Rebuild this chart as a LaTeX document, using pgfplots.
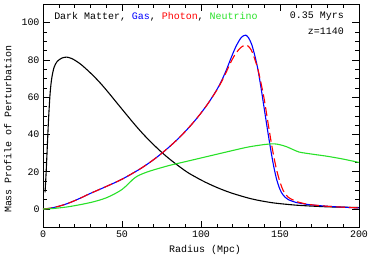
\documentclass[border=0pt]{standalone}
\usepackage{pgfplots}
\pgfplotsset{compat=1.18}
\usepackage{fontspec}
\setmainfont{Liberation Mono}
\definecolor{nugreen}{RGB}{40,225,40}
\begin{document}
\begin{tikzpicture}
\path[use as bounding box] (-43bp,-31.3bp) rectangle (327bp,227.7bp);
\begin{axis}[
  scale only axis, width=316bp, height=223.7bp,
  xmin=0, xmax=200, ymin=-10, ymax=110,
  xtick={0,50,100,150,200}, ytick={0,20,40,60,80,100},
  minor x tick num=4, minor y tick num=3,
  tick align=inside, ticks=both,
  major tick length=7bp, minor tick length=4bp,
  tick style={black, line width=0.6pt},
  axis line style={line width=0.6pt},
  /pgf/number format/assume math mode=true,
  tick label style={font=\fontsize{10}{12}\selectfont},
  label style={font=\fontsize{10}{12}\selectfont},
  xlabel={Radius (Mpc)},
  ylabel={Mass Profile of Perturbation},
  xlabel style={at={(axis description cs:0.513,-0.098)}, anchor=center},
  ylabel style={at={(axis description cs:-0.111,0.44)}, anchor=center},
  every axis plot/.append style={line width=1.1bp, line join=round},
]
% Dark matter
\addplot[black, smooth, tension=0.5] coordinates {
(1.3,9) (2,20) (2.7,33) (3.5,48) (4.5,62) (5.5,70) (7,76) (9,79.2) (12,81) (15,81.5) (18,80.8) (21,79.4) (24,77.6) (27,75.4) (32,71.4) (37,66.9) (42,61.9) (47,56.7) (53,50.5) (58,45.4) (63,40.6) (68,36.2) (74,31.3) (80,26.9) (86,23) (92,19.4) (100,15.6) (105,13.5) (110,11.6) (115,9.9) (120,8.4) (125,7.1) (130,5.9) (135,4.9) (140,4.1) (145,3.4) (150,2.9) (160,2.1) (170,1.6) (180,1.2) (190,1) (200,0.8)
};
% Gas
\addplot[blue, smooth, tension=0.5] coordinates {
(0,0) (5,0.5) (10,1.5) (15,2.8) (20,4.5) (25,6.4) (30,8.4) (40,12.1) (50,16) (60,20.8) (65,23.5) (70,26.5) (75,29.8) (80,33.4) (85,37.3) (90,41.6) (95,46.3) (100,51.5) (105,57.3) (110,64) (113,68.8) (116,74.5) (119,81) (122,87) (125,91.5) (127,93) (128.3,93.3) (130,92) (132,88.5) (134,82.5) (136,75) (138,65) (140,54) (142,43) (144,32.5) (146,23) (148,15.5) (150,10.5) (152,7.5) (155,5.2) (160,3.6) (165,2.8) (170,2.2) (180,1.5) (190,1) (200,0.6)
};
% Photon
\addplot[red, dash pattern=on 9bp off 4bp, smooth, tension=0.5] coordinates {
(0,0) (5,0.5) (10,1.5) (15,2.8) (20,4.5) (25,6.4) (30,8.4) (40,12.1) (50,16) (60,20.8) (65,23.5) (70,26.5) (75,29.8) (80,33.4) (85,37.3) (90,41.6) (95,46.3) (100,51.5) (105,57.3) (110,63.8) (113,68.3) (116,73.5) (119,79) (122,83.5) (125,86.5) (127,87.6) (128.5,88) (130,87.3) (132,85) (134,80.5) (136,75) (138,67.5) (140,59) (142,48.5) (144,38) (146,28.5) (148,20.5) (150,14.5) (152,10) (155,6.5) (160,4.2) (165,3) (170,2.3) (180,1.5) (190,1) (200,0.6)
};
% Neutrino
\addplot[nugreen, smooth, tension=0.5] coordinates {
(0,0) (5,0.2) (10,0.6) (15,1.1) (20,1.8) (25,2.6) (30,3.5) (35,4.6) (40,6) (45,8) (50,10.5) (54,13.5) (57,16) (60,17.8) (65,19.6) (70,21) (80,23.4) (90,25.4) (100,27.4) (110,29.4) (120,31.4) (130,33.3) (140,34.6) (146,35) (150,34.5) (154,33.5) (158,32) (162,30.6) (166,30) (170,29.5) (180,28.3) (190,26.8) (200,25)
};
\node[anchor=west, inner sep=0pt, font=\fontsize{10}{12}\selectfont] at (axis cs:7,103.4)
  {Dark Matter, \textcolor{blue}{Gas}, \textcolor{red}{Photon}, \textcolor{nugreen}{Neutrino}};
\node[anchor=east, inner sep=0pt, font=\fontsize{10}{12}\selectfont] at (axis cs:190.5,103.4) {0.35 Myrs};
\node[anchor=east, inner sep=0pt, font=\fontsize{10}{12}\selectfont] at (axis cs:190.5,95.2) {z=1140};
\end{axis}
\end{tikzpicture}
\end{document}
